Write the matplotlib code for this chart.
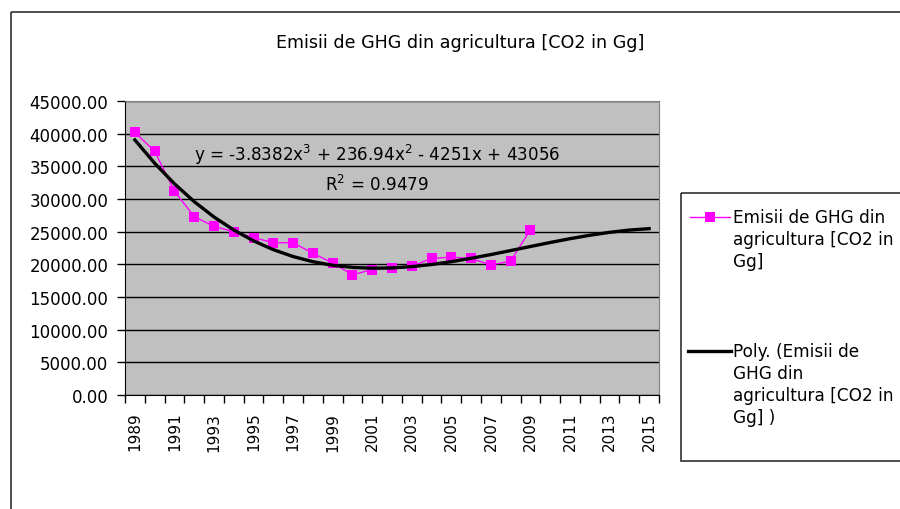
import numpy as np
import matplotlib.pyplot as plt
from matplotlib.patches import Rectangle
from matplotlib.lines import Line2D

# data
years = list(range(1989, 2016))
emissions = [40200, 37300, 31200, 27300, 25800, 25000, 24100, 23300, 23300, 21700,
             20200, 18400, 19200, 19500, 19700, 20900, 21100, 20900, 19900, 20500,
             25300]
# polynomial trendline coefficients shown on the chart (x = 1, 2, ... per year)
trend_coef = [-3.8382, 236.94, -4251, 43056]
trend_text = "y = -3.8382x$^3$ + 236.94x$^2$ - 4251x + 43056"
r2_text = "R$^2$ = 0.9479"
title = "Emisii de GHG din agricultura [CO2 in Gg]"
series_label = ["Emisii de GHG din", "agricultura [CO2 in", "Gg]"]
trend_label = ["Poly. (Emisii de", "GHG din", "agricultura [CO2 in", "Gg] )"]

W, H = 900, 510
fig = plt.figure(figsize=(W / 100, H / 100), dpi=100)
fig.patch.set_facecolor("white")


def px(x, y):
    # pixel position -> figure fraction
    return x / W, 1 - y / H


# overlay in pixel coordinates for frame, title and legend
ov = fig.add_axes([0, 0, 1, 1], zorder=0)
ov.set_xlim(0, W)
ov.set_ylim(H, 0)
ov.axis("off")

ov.add_patch(Rectangle((10.5, 12.5), 1000, 1000, fill=False, edgecolor="#303030", lw=1.2))
ov.text(460, 43, title, fontsize=12.6, ha="center", va="center")

# plot area
x0, x1, y0, y1 = 125, 659, 102, 396
ax = fig.add_axes([x0 / W, 1 - y1 / H, (x1 - x0) / W, (y1 - y0) / H], zorder=1)
ax.set_facecolor("#c0c0c0")

xpos = np.arange(len(years))
ax.plot(xpos[:len(emissions)], emissions, color="#ff00ff", lw=1, marker="s",
        markersize=7, markeredgewidth=0, zorder=3)
tx = np.arange(1, len(years) + 1)
ax.plot(xpos, np.polyval(trend_coef, tx), color="black", lw=2.4, zorder=4)

ax.set_xlim(-0.5, len(years) - 0.5)
ax.set_ylim(0, 45000)
ax.set_yticks(np.arange(0, 45001, 5000))
ax.set_yticklabels([f"{v:.2f}" for v in np.arange(0, 45001, 5000)])
ax.yaxis.grid(True, color="black", lw=1)
ax.set_axisbelow(True)

ax.set_xticks(np.arange(-0.5, len(years), 1))
ax.set_xticklabels([])
ax.set_xticks(xpos[::2], minor=True)
ax.set_xticklabels([str(y) for y in years[::2]], minor=True, rotation=90, fontsize=11)
ax.tick_params(axis="x", which="major", direction="out", length=6, width=1)
ax.tick_params(axis="x", which="minor", length=0, pad=12)
ax.tick_params(axis="y", direction="out", length=6, width=1, pad=6, labelsize=12)

for s in ["top", "right"]:
    ax.spines[s].set_color("#808080")
for s in ["left", "bottom"]:
    ax.spines[s].set_color("black")

# trendline label
fig.text(*px(377, 155), trend_text, fontsize=12.1, ha="center", va="center", zorder=5)
fig.text(*px(377, 185), r2_text, fontsize=12.1, ha="center", va="center", zorder=5)

# legend box
ov.add_patch(Rectangle((680.5, 193.5), 300, 269, fill=False, edgecolor="#303030", lw=1.2))
ov.add_line(Line2D([690, 730], [218, 218], color="#ff00ff", lw=1))
ov.add_line(Line2D([710], [218], color="#ff00ff", marker="s", markersize=7, markeredgewidth=0))
for i, t in enumerate(series_label):
    ov.text(733, 218 + 22 * i, t, fontsize=12.2, va="center", ha="left")
ov.add_line(Line2D([688, 731], [352, 352], color="black", lw=2.4))
for i, t in enumerate(trend_label):
    ov.text(733, 352 + 22 * i, t, fontsize=12.2, va="center", ha="left")

fig.savefig("out.png", dpi=100)
